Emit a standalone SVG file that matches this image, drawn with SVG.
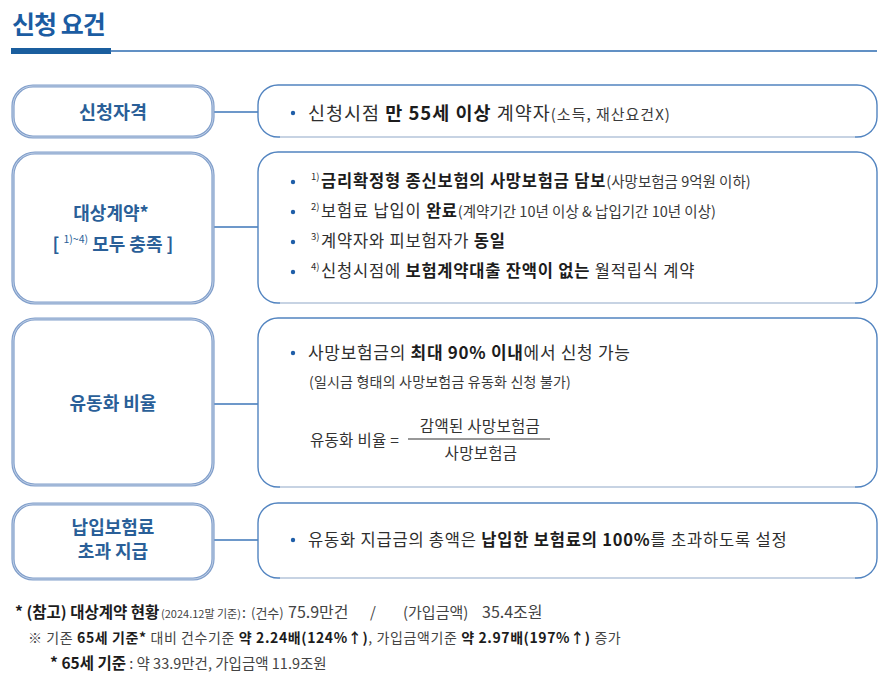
<svg xmlns="http://www.w3.org/2000/svg" width="891" height="682" viewBox="0 0 891 682">
<style>
text{font-family:"Noto Sans CJK KR","Noto Sans",sans-serif;fill:#2e2e2e}
.title{font-size:25px;font-weight:700;fill:#1b5ca2;letter-spacing:-1px}
.lbl{font-size:18px;font-weight:700;fill:#2a5f98;text-anchor:middle}
.lsup{font-size:10.5px;font-weight:400}
.t{font-size:16.5px;letter-spacing:0.8px}
.bd{font-weight:700;fill:#1c1c1c}
.s{font-size:14.5px;fill:#3a3a3a;letter-spacing:0}
.sup{font-size:9.5px}
.f{font-size:14px;fill:#444}
.fm{font-size:15.5px;letter-spacing:0.3px;fill:#333}
.lbox{fill:#fff;stroke:#819fcb;stroke-width:3.2}
.lbox2{fill:none;stroke:#fff;stroke-width:0.9;opacity:0.55}
.rbox{fill:#fff;stroke:#5284c0;stroke-width:1.4}
.rbot{stroke:#c7d3e3;stroke-width:2}
.con{stroke:#3c76b8;stroke-width:1.5;fill:none}
.dot{fill:#1f5ea8}
</style>

<g id="title">
<text x="12" y="34" class="title">신청 요건</text>
<rect x="11" y="48" width="100" height="6" fill="#1a5e9e"/>
<line x1="110" y1="51" x2="877" y2="51" stroke="#2d6bb0" stroke-width="1.5"/>
</g>

<g id="connectors">
<line class="con" x1="214" y1="112" x2="258" y2="112"/>
<line class="con" x1="214" y1="227" x2="258" y2="227"/>
<line class="con" x1="214" y1="404" x2="258" y2="404"/>
<line class="con" x1="214" y1="540" x2="258" y2="540"/>
</g>

<g id="node-eligibility">
<rect class="lbox" x="13" y="86" width="200" height="51" rx="20"/>
<rect class="lbox2" x="13" y="86" width="200" height="51" rx="20"/>
<text x="113" y="119" class="lbl" style="font-size:18.5px">신청자격</text>
</g>

<g id="node-eligibility-detail">
<rect class="rbox" x="258" y="85" width="619" height="52" rx="20"/>
<line class="rbot" x1="280" y1="137" x2="855" y2="137"/>
<circle class="dot" cx="293" cy="113" r="2.2"/>
<text x="308" y="120" class="t" style="font-size:18.5px;letter-spacing:1px">신청시점 <tspan class="bd">만 55세 이상</tspan> 계약자<tspan class="s" style="font-size:15px;letter-spacing:1px">(소득, 재산요건X)</tspan></text>
</g>

<g id="node-contract">
<rect class="lbox" x="13" y="153" width="200" height="150" rx="22"/>
<rect class="lbox2" x="13" y="153" width="200" height="150" rx="22"/>
<text x="111" y="220" class="lbl">대상계약*</text>
<text x="113" y="251" class="lbl">[ <tspan class="lsup" dy="-8">1)~4)</tspan><tspan dy="8"> 모두 충족 ]</tspan></text>
</g>

<g id="node-contract-detail">
<rect class="rbox" x="258" y="152" width="619" height="151" rx="20"/>
<line class="rbot" x1="280" y1="303" x2="855" y2="303"/>
<circle class="dot" cx="293" cy="182" r="2.2"/>
<circle class="dot" cx="293" cy="212" r="2.2"/>
<circle class="dot" cx="293" cy="242" r="2.2"/>
<circle class="dot" cx="293" cy="272" r="2.2"/>
<text x="311" y="180" class="sup">1)</text>
<text x="321" y="187" class="t"><tspan class="bd">금리확정형 종신보험의 사망보험금 담보</tspan><tspan class="s">(사망보험금 9억원 이하)</tspan></text>
<text x="311" y="210" class="sup">2)</text>
<text x="321" y="217" class="t">보험료 납입이 <tspan class="bd">완료</tspan><tspan class="s">(계약기간 10년 이상 &amp; 납입기간 10년 이상)</tspan></text>
<text x="311" y="240" class="sup">3)</text>
<text x="321" y="247" class="t">계약자와 피보험자가 <tspan class="bd">동일</tspan></text>
<text x="311" y="270" class="sup">4)</text>
<text x="321" y="277" class="t">신청시점에 <tspan class="bd">보험계약대출 잔액이 없는</tspan> 월적립식 계약</text>
</g>

<g id="node-ratio">
<rect class="lbox" x="13" y="319" width="200" height="166" rx="22"/>
<rect class="lbox2" x="13" y="319" width="200" height="166" rx="22"/>
<text x="113" y="410" class="lbl">유동화 비율</text>
</g>

<g id="node-ratio-detail">
<rect class="rbox" x="258" y="318" width="619" height="169" rx="20"/>
<line class="rbot" x1="280" y1="487" x2="855" y2="487"/>
<circle class="dot" cx="293" cy="353" r="2.2"/>
<text x="308" y="359" class="t" style="font-size:17px;letter-spacing:0.7px">사망보험금의 <tspan class="bd">최대 90% 이내</tspan>에서 신청 가능</text>
<text x="309" y="387" class="s" style="font-size:14px;letter-spacing:0.2px">(일시금 형태의 사망보험금 유동화 신청 불가)</text>
<text x="310" y="446" class="fm">유동화 비율 =</text>
<text x="480" y="432" class="fm" text-anchor="middle">감액된 사망보험금</text>
<line x1="408" y1="439" x2="550" y2="439" stroke="#333" stroke-width="1.2"/>
<text x="481" y="459" class="fm" text-anchor="middle">사망보험금</text>
</g>

<g id="node-excess">
<rect class="lbox" x="13" y="504" width="200" height="75" rx="20"/>
<rect class="lbox2" x="13" y="504" width="200" height="75" rx="20"/>
<text x="113" y="534" class="lbl">납입보험료</text>
<text x="113" y="558" class="lbl">초과 지급</text>
</g>

<g id="node-excess-detail">
<rect class="rbox" x="258" y="503" width="619" height="75" rx="20"/>
<line class="rbot" x1="280" y1="578" x2="855" y2="578"/>
<circle class="dot" cx="293" cy="540" r="2.2"/>
<text x="308" y="546" class="t">유동화 지급금의 총액은 <tspan class="bd">납입한 보험료의 100%</tspan>를 초과하도록 설정</text>
</g>

<g id="footer">
<text y="618" class="f"><tspan x="15" class="bd" style="font-size:15.5px">* (참고) 대상계약 현황</tspan><tspan x="161" style="font-size:11px">(2024.12말 기준)</tspan><tspan x="242">:</tspan><tspan x="251" style="font-size:13px">(건수)</tspan><tspan x="288" style="font-size:16px">75.9만건</tspan><tspan x="370" style="font-size:15px">/</tspan><tspan x="403" style="font-size:15px">(가입금액)</tspan><tspan x="482" style="font-size:16px">35.4조원</tspan></text>
<text x="28" y="643" class="f" style="letter-spacing:0.6px">※ 기존 <tspan class="bd">65세 기준*</tspan> 대비 건수기준 <tspan class="bd">약 2.24배(124%↑)</tspan>, 가입금액기준 <tspan class="bd">약 2.97배(197%↑)</tspan> 증가</text>
<text x="50" y="669" class="f" style="font-size:14.5px"><tspan class="bd" style="font-size:15.5px">* 65세 기준</tspan> : 약 33.9만건, 가입금액 11.9조원</text>
</g>
</svg>
